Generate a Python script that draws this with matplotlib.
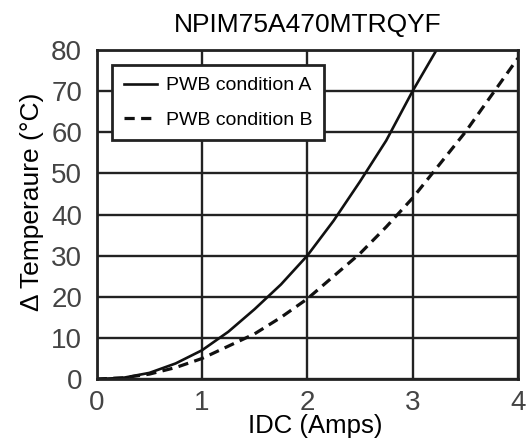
import matplotlib.pyplot as plt

plt.rcParams['font.family'] = ['Liberation Sans', 'DejaVu Sans']

# values
idc_a = [0, 0.25, 0.5, 0.75, 1.0, 1.25, 1.5, 1.75, 2.0, 2.25, 2.5, 2.75, 3.0, 3.25]
temp_a = [0, 0.3, 1.5, 3.8, 7, 11.5, 17, 23, 30, 38.5, 48, 58, 70, 81]
idc_b = [0, 0.25, 0.5, 0.75, 1.0, 1.25, 1.5, 1.75, 2.0, 2.25, 2.5, 2.75, 3.0, 3.25, 3.5, 3.75, 4.0]
temp_b = [0, 0.3, 1.2, 2.8, 5, 8, 11, 15, 19.5, 25, 30.5, 37, 44, 52, 60, 69, 78]
x_ticks = [0, 1, 2, 3, 4]
y_ticks = [0, 10, 20, 30, 40, 50, 60, 70, 80]

fig = plt.figure(figsize=(5.3, 4.47), dpi=100)
ax = fig.add_axes([0.1825, 0.152, 0.7945, 0.736])

ax.plot(idc_a, temp_a, color='#111111', lw=1.9, label='PWB condition A')
ax.plot(idc_b, temp_b, color='#111111', lw=2.3, ls=(0, (3.2, 2.0)), label='PWB condition B')

ax.set_xlim(0, 4)
ax.set_ylim(0, 80)
ax.set_xticks(x_ticks)
ax.set_yticks(y_ticks)
ax.grid(True, color='#222222', lw=1.7)
ax.tick_params(length=0, labelsize=20, labelcolor='#444444')
ax.tick_params(axis='y', pad=10.5)
ax.tick_params(axis='x', pad=8)
for s in ax.spines.values():
    s.set_linewidth(2)
    s.set_color('#222222')

ax.set_title('NPIM75A470MTRQYF', fontsize=19, pad=13)
ax.set_xlabel('IDC (Amps)', fontsize=18.5)
ax.set_ylabel('Δ Temperaure (°C)', fontsize=19)
ax.xaxis.set_label_coords(0.52, -0.105)
ax.yaxis.set_label_coords(-0.125, 0.54)

leg = ax.legend(loc='upper left', bbox_to_anchor=(0.036, 0.954), fontsize=14,
                handlelength=1.7, handletextpad=0.5, fancybox=False, framealpha=1,
                edgecolor='#222222', borderpad=0.6, labelspacing=0.85,
                borderaxespad=0)
leg.get_frame().set_linewidth(2)

fig.savefig('out.png', dpi=100)
